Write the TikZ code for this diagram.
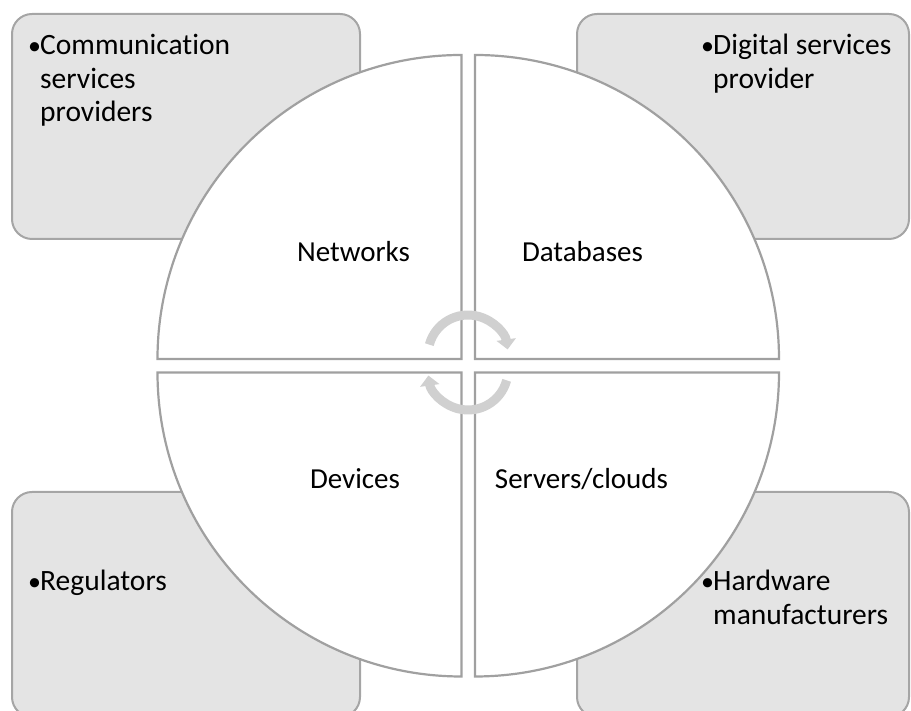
\documentclass[tikz,border=0pt]{standalone}
\usepackage{fontspec}
\setmainfont{Carlito}[Ligatures=NoCommon]
\usetikzlibrary{arrows.meta}
\definecolor{boxfill}{HTML}{E4E4E4}
\definecolor{boxline}{HTML}{A5A5A5}
\definecolor{quadline}{HTML}{A0A0A0}
\definecolor{arrowgray}{HTML}{D0D0D0}
\newcommand\mybullet{\makebox[11pt][l]{\hspace{-1pt}\fontsize{26}{26}\selectfont •}}
\begin{document}
\begin{tikzpicture}[x=1pt,y=1pt,
  outerbox/.style={draw=boxline, fill=boxfill, line width=2pt, rounded corners=20pt},
  quad/.style={draw=quadline, fill=white, line width=2.2pt, line join=miter},
  cyc/.style={draw=arrowgray, line width=9pt, -{Triangle[length=10pt,width=19pt]}},
  lbl/.style={font=\fontsize{29}{33.5}\selectfont, inner sep=0pt, anchor=base},
  boxtxt/.style={font=\fontsize{29.5}{33.5}\selectfont, inner sep=0pt, anchor=base west, align=left}]
\useasboundingbox (0,0) rectangle (911,711);
% outer boxes
\draw[outerbox] (12,472) rectangle (360,697);
\draw[outerbox] (577,472) rectangle (909,697);
\draw[outerbox] (12,-6) rectangle (360,219);
\draw[outerbox] (577,-6) rectangle (909,219);
% quadrants
\draw[quad] (461.5,352) -- ++(-304,0) arc[start angle=180,end angle=90,radius=304] -- cycle;
\draw[quad] (475,352) -- ++(0,304) arc[start angle=90,end angle=0,radius=304] -- cycle;
\draw[quad] (475,338.5) -- ++(304,0) arc[start angle=0,end angle=-90,radius=304] -- cycle;
\draw[quad] (461.5,338.5) -- ++(0,-304) arc[start angle=270,end angle=180,radius=304] -- cycle;
% cycle arrows
\coordinate (uc) at (468,356);
\coordinate (lc) at (468,341);
\draw[cyc] (uc) ++(165:40) arc[start angle=165,end angle=8,radius=40];
\draw[cyc] (lc) ++(-15:40) arc[start angle=345,end angle=188,radius=40];
% labels
\node[lbl] (net) at (353.5,449) {Networks};
\node[lbl] (db) at (582.5,449) {Databases};
\node[lbl] (dev) at (355,222) {Devices};
\node[lbl] (srv) at (581.5,222) {Servers/clouds};
% box texts
\node[boxtxt] (csp) at (29,656) {\begin{tabular}[t]{@{}l@{}l@{}}\mybullet&Communication\\&services\\&providers\end{tabular}};
\node[boxtxt] (dsp) at (702,656) {\begin{tabular}[t]{@{}l@{}l@{}}\mybullet&Digital services\\&provider\end{tabular}};
\node[boxtxt] (reg) at (29,120) {\begin{tabular}[t]{@{}l@{}l@{}}\mybullet&Regulators\end{tabular}};
\node[boxtxt] (hwm) at (702,120) {\begin{tabular}[t]{@{}l@{}l@{}}\mybullet&Hardware\\&manufacturers\end{tabular}};
\end{tikzpicture}
\end{document}
